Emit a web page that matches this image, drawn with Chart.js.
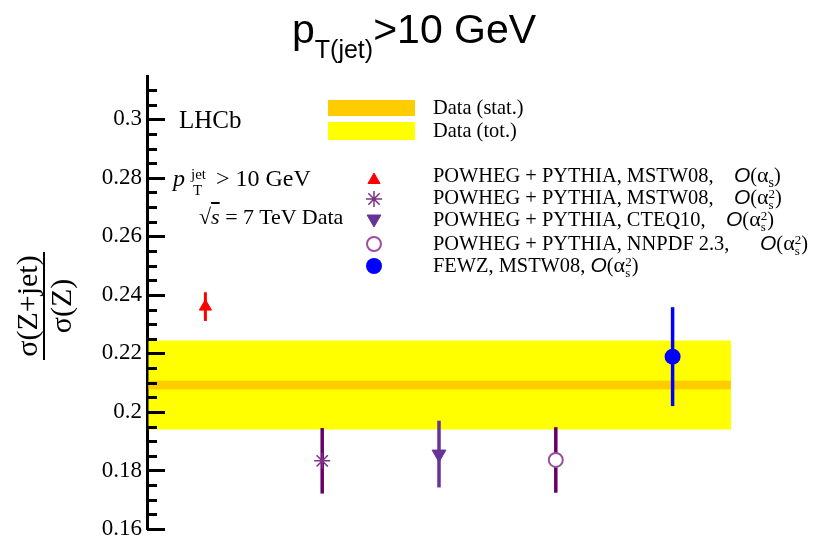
<!DOCTYPE html>
<html>
<head>
<meta charset="utf-8">
<script src="https://cdn.jsdelivr.net/npm/chart.js@4.4.1/dist/chart.umd.min.js"></script>
<style>
  html, body { margin: 0; padding: 0; background: #fff; }
  #wrap { position: relative; width: 815px; height: 541px; overflow: hidden; }
  #chart { position: absolute; left: 0; top: 0; }
  .txt { position: absolute; white-space: nowrap; font-family: 'Liberation Serif', serif; color: #000; }
  .leg { font-size: 20.4px; line-height: 24px; left: 433px; }
  .O { font-family: 'Liberation Sans', sans-serif; font-style: italic; font-size: 21px; }
  .al { font-size: 22px; }
  .sb { font-size: 14px; position: relative; top: 5px; }
  .st { display: inline-block; font-size: 13px; line-height: 11px; vertical-align: -5px; text-align: left; }
  .st span { display: block; }
</style>
</head>
<body>
<div id="wrap">
  <canvas id="chart" width="815" height="541"></canvas>

  <div class="txt" style="left:292px; top:9px; font-family:'Liberation Sans', sans-serif; font-size:41px; line-height:41px;">p<span style="font-size:25px; position:relative; top:15px;">T(jet)</span>&gt;10 GeV</div>

  <div class="txt" style="left:44px; top:306px; transform:translate(-50%,-50%) rotate(-90deg); font-size:30px; line-height:32px; text-align:center;">
    <div>σ(Z+jet)</div>
    <div style="height:2px; background:#000; width:108px; margin:0 auto;"></div>
    <div>σ(Z)</div>
  </div>

  <div class="txt" style="left:179px; top:107px; font-size:25px; line-height:25px;">LHCb</div>
  <div class="txt" style="left:173px; top:166px; font-size:24px; line-height:24px;"><i>p</i><span class="st" style="font-size:15px; line-height:16px; vertical-align:-9px; margin-left:6px; margin-right:4px;"><span>jet</span><span style="padding-left:2px;">T</span></span> &gt; 10 GeV</div>
  <div class="txt" style="left:199px; top:205px; font-size:22px; line-height:24px;">√<i style="text-decoration:overline;">s</i> = 7 TeV Data</div>

  <div class="txt leg" style="top:95px;">Data (stat.)</div>
  <div class="txt leg" style="top:118px;">Data (tot.)</div>
  <div class="txt leg" style="top:163px;">POWHEG + PYTHIA, MSTW08,&nbsp;&nbsp;&nbsp; <span class="O">O</span>(<span class="al">α</span><span class="sb">s</span>)</div>
  <div class="txt leg" style="top:185px;">POWHEG + PYTHIA, MSTW08,&nbsp;&nbsp;&nbsp; <span class="O">O</span>(<span class="al">α</span><span class="st"><span>2</span><span>s</span></span>)</div>
  <div class="txt leg" style="top:207px;">POWHEG + PYTHIA, CTEQ10,&nbsp;&nbsp;&nbsp; <span class="O">O</span>(<span class="al">α</span><span class="st"><span>2</span><span>s</span></span>)</div>
  <div class="txt leg" style="top:231px;">POWHEG + PYTHIA, NNPDF 2.3,&nbsp;&nbsp;&nbsp;&nbsp;&nbsp; <span class="O">O</span>(<span class="al">α</span><span class="st"><span>2</span><span>s</span></span>)</div>
  <div class="txt leg" style="top:253px;">FEWZ, MSTW08, <span class="O">O</span>(<span class="al">α</span><span class="st"><span>2</span><span>s</span></span>)</div>
</div>

<script>
// valeurs
const xCats = [1, 2, 3, 4, 5];
const seriesNames = [
  "POWHEG + PYTHIA, MSTW08, O(as)",
  "POWHEG + PYTHIA, MSTW08, O(as2)",
  "POWHEG + PYTHIA, CTEQ10, O(as2)",
  "POWHEG + PYTHIA, NNPDF 2.3, O(as2)",
  "FEWZ, MSTW08, O(as2)"
];
const ratioValues = [0.2360, 0.1833, 0.1856, 0.1836, 0.2189];
const ratioErrors = [0.0049, 0.0112, 0.0114, 0.0112, 0.0169];

const dataValue = 0.2092;
const dataStatErr = 0.0015;
const dataTotErr = 0.0152;

const yMajorTicks = [0.16, 0.18, 0.20, 0.22, 0.24, 0.26, 0.28, 0.30];
const yTickLabels = ["0.16", "0.18", "0.2", "0.22", "0.24", "0.26", "0.28", "0.3"];
const yMin = 0.16, yMax = 0.3148, yMinorStep = 0.005;

// styles des marqueurs
const markerStyle = [
  { style: "triangle", rot: 0,   r: 7, fill: "#ff0000", line: "#ff0000", bw: 1,   err: "#ff0000", errW: 3 },
  { style: "star",     rot: 0,   r: 8, fill: "#7f2f87", line: "#7f2f87", bw: 1.5, err: "#660066", errW: 3.5 },
  { style: "triangle", rot: 180, r: 8, fill: "#663399", line: "#663399", bw: 1,   err: "#663399", errW: 3.5 },
  { style: "circle",   rot: 0,   r: 7, fill: "#ffffff", line: "#9b4fa0", bw: 2,   err: "#660066", errW: 3.5 },
  { style: "circle",   rot: 0,   r: 8, fill: "#0000ff", line: "#0000ff", bw: 0,   err: "#0000ff", errW: 3.5 }
];
const legendMarkerX = 374;
const legendMarkerY = [180, 199, 219, 244, 266];

const datasets = seriesNames.map((name, i) => ({
  label: name,
  data: [{ x: xCats[i], y: ratioValues[i] }],
  errors: [ratioErrors[i]],
  pointStyle: markerStyle[i].style,
  rotation: markerStyle[i].rot,
  pointRadius: markerStyle[i].r,
  pointHoverRadius: markerStyle[i].r,
  backgroundColor: markerStyle[i].fill,
  borderColor: markerStyle[i].line,
  borderWidth: markerStyle[i].bw
}));

// bandes data + barres d'erreur, sous les marqueurs
const bandsAndErrors = {
  id: "bandsAndErrors",
  beforeDatasetsDraw(chart) {
    const ctx = chart.ctx, xs = chart.scales.x, ys = chart.scales.y;
    const left = chart.chartArea.left + 1.5;
    const right = xs.getPixelForValue(5.5);
    const band = (lo, hi, color) => {
      const top = ys.getPixelForValue(hi), bot = ys.getPixelForValue(lo);
      ctx.fillStyle = color;
      ctx.fillRect(left, top, right - left, bot - top);
    };
    ctx.save();
    band(dataValue - dataTotErr, dataValue + dataTotErr, "#ffff00");
    band(dataValue - dataStatErr, dataValue + dataStatErr, "#ffcc00");

    chart.data.datasets.forEach((ds, i) => {
      ds.data.forEach((p, j) => {
        const e = ds.errors[j];
        const px = xs.getPixelForValue(p.x);
        ctx.strokeStyle = markerStyle[i].err;
        ctx.lineWidth = markerStyle[i].errW;
        ctx.beginPath();
        ctx.moveTo(px, ys.getPixelForValue(p.y + e));
        ctx.lineTo(px, ys.getPixelForValue(p.y - e));
        ctx.stroke();
      });
    });
    ctx.restore();
  }
};

// ticks vers l'intérieur + légende
const ticksAndLegend = {
  id: "ticksAndLegend",
  afterDraw(chart) {
    const ctx = chart.ctx, ys = chart.scales.y;
    const x0 = ys.right;
    ctx.save();
    ctx.strokeStyle = "#000";
    ctx.lineWidth = 3;
    ys.ticks.forEach(t => {
      const major = yMajorTicks.some(m => Math.abs(m - t.value) < 1e-6);
      const py = Math.round(ys.getPixelForValue(t.value)) + 0.5;
      ctx.beginPath();
      ctx.moveTo(x0, py);
      ctx.lineTo(x0 + (major ? 18 : 10), py);
      ctx.stroke();
    });

    // rectangles de la légende
    ctx.fillStyle = "#ffcc00";
    ctx.fillRect(328, 100, 87, 16);
    ctx.fillStyle = "#ffff00";
    ctx.fillRect(328, 122, 87, 18);

    markerStyle.forEach((m, i) => {
      ctx.fillStyle = m.fill;
      ctx.strokeStyle = m.line;
      ctx.lineWidth = m.bw;
      Chart.helpers.drawPoint(ctx, {
        pointStyle: m.style, rotation: m.rot, radius: m.r, borderWidth: m.bw
      }, legendMarkerX, legendMarkerY[i]);
    });
    ctx.restore();
  }
};

new Chart(document.getElementById("chart").getContext("2d"), {
  type: "scatter",
  data: { datasets: datasets },
  options: {
    responsive: false,
    animation: false,
    devicePixelRatio: 1,
    events: [],
    layout: { padding: { left: 0, right: 84, top: 76, bottom: 12 } },
    plugins: { legend: { display: false }, tooltip: { enabled: false }, title: { display: false } },
    scales: {
      x: { type: "linear", min: 0.5, max: 5.5, display: false },
      y: {
        type: "linear",
        min: yMin,
        max: yMax,
        afterBuildTicks: scale => {
          const t = [];
          for (let v = yMin; v <= yMax + 1e-9; v += yMinorStep) t.push({ value: Math.round(v * 1000) / 1000 });
          scale.ticks = t;
        },
        afterFit: scale => {
          scale.width = 147;
          scale.paddingTop = 0;
          scale.paddingBottom = 0;
        },
        grid: { display: false, drawTicks: false, tickLength: 0 },
        border: { display: true, color: "#000", width: 3 },
        ticks: {
          autoSkip: false,
          padding: 5,
          color: "#000",
          font: { family: "'Liberation Serif', serif", size: 23, lineHeight: 1 },
          callback: v => {
            const k = yMajorTicks.findIndex(m => Math.abs(m - v) < 1e-6);
            return k >= 0 ? yTickLabels[k] : "";
          }
        }
      }
    }
  },
  plugins: [bandsAndErrors, ticksAndLegend]
});
</script>
</body>
</html>
